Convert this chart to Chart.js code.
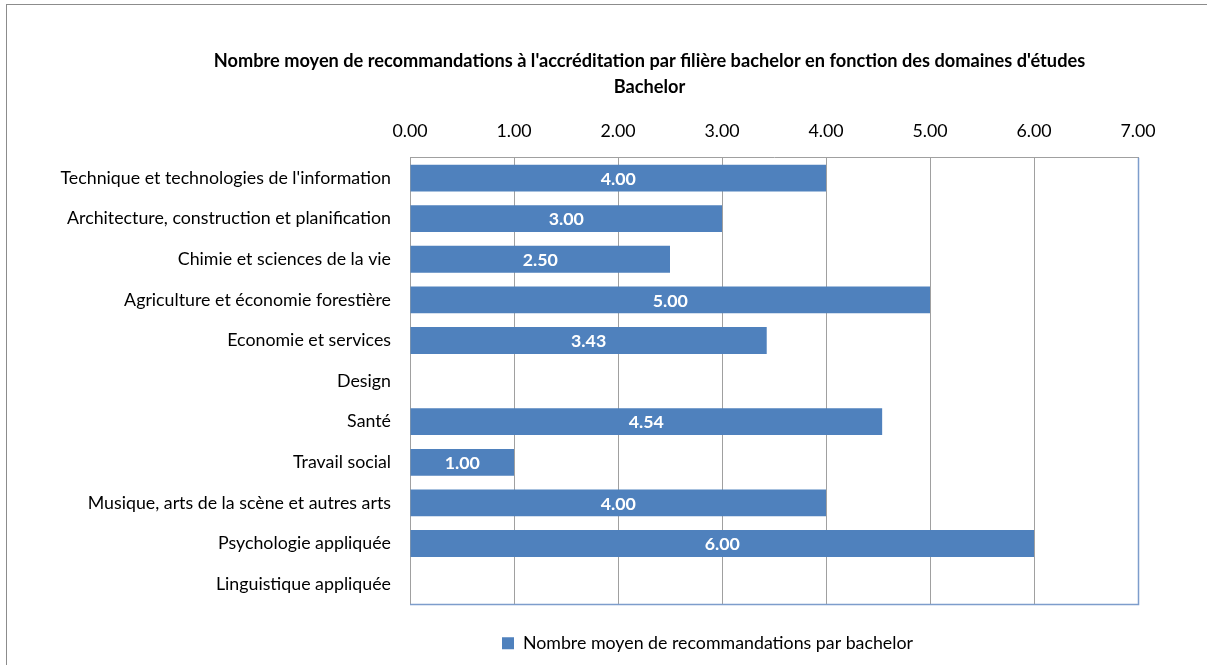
<!DOCTYPE html>
<html>
<head>
<meta charset="utf-8">
<script src="https://cdn.jsdelivr.net/npm/chart.js@4/dist/chart.umd.min.js"></script>
<style>
  html, body { margin: 0; padding: 0; background: #fff; overflow: hidden; }
  #frame { position: absolute; left: 6px; top: 4px; width: 1284px; height: 700px; border: 1px solid #8c8c8c; }
  #chart { display: block; }
</style>
</head>
<body>
<div id="frame"><canvas id="chart" width="1284" height="700"></canvas></div>
<script>
// domaines d'études (catégories)
const categories = [
    "Technique et technologies de l'information",
    'Architecture, construction et planification',
    'Chimie et sciences de la vie',
    'Agriculture et économie forestière',
    'Economie et services',
    'Design',
    'Santé',
    'Travail social',
    'Musique, arts de la scène et autres arts',
    'Psychologie appliquée',
    'Linguistique appliquée'
];
// nombre moyen de recommandations (null = pas de barre)
const moyennes = [4.00, 3.00, 2.50, 5.00, 3.43, null, 4.54, 1.00, 4.00, 6.00, null];
const seriesName = 'Nombre moyen de recommandations par bachelor';
const titleLines = ["Nombre moyen de recommandations à l'accréditation par filière bachelor en fonction des domaines d'études", 'Bachelor'];
const xMin = 0, xMax = 7, xStep = 1;

const FONT = 'Lato';
const FS = 17.8;

// valeurs en blanc au milieu des barres
const barLabels = {
    id: 'barLabels',
    afterDatasetsDraw(chart) {
        const ctx = chart.ctx;
        const meta = chart.getDatasetMeta(0);
        ctx.save();
        ctx.fillStyle = '#ffffff';
        ctx.font = 'bold ' + FS + 'px ' + FONT;
        ctx.textAlign = 'center';
        ctx.textBaseline = 'middle';
        meta.data.forEach((bar, i) => {
            const v = moyennes[i];
            if (v === null) return;
            const p = bar.getProps(['x', 'y', 'base'], true);
            ctx.fillText(v.toFixed(2), (p.x + p.base) / 2, p.y + 1);
        });
        ctx.restore();
    }
};

// bordure droite et basse de la zone de tracé (bleutée comme dans Excel)
const plotBorder = {
    id: 'plotBorder',
    afterDatasetsDraw(chart) {
        const a = chart.chartArea;
        const ctx = chart.ctx;
        ctx.save();
        ctx.strokeStyle = '#7d9dcc';
        ctx.lineWidth = 1.5;
        ctx.beginPath();
        ctx.moveTo(Math.round(a.right) + 0.5, a.top);
        ctx.lineTo(Math.round(a.right) + 0.5, Math.round(a.bottom) + 0.5);
        ctx.lineTo(a.left, Math.round(a.bottom) + 0.5);
        ctx.stroke();
        ctx.restore();
    }
};

// titre et légende décalés comme dans l'original
const blockShift = {
    id: 'blockShift',
    afterLayout(chart) {
        chart.titleBlock.left += 77;
        chart.titleBlock.right += 77;
        chart.legend.left += 135;
        chart.legend.right += 135;
    }
};

new Chart(document.getElementById('chart'), {
    type: 'bar',
    data: {
        labels: categories,
        datasets: [{
            label: seriesName,
            data: moyennes,
            backgroundColor: '#4f81bd',
            borderWidth: 0,
            barPercentage: 0.66,
            categoryPercentage: 1
        }]
    },
    options: {
        indexAxis: 'y',
        responsive: false,
        animation: false,
        layout: { padding: { left: 0, right: 153, top: 0, bottom: 42.8 } },
        scales: {
            x: {
                position: 'top',
                min: xMin,
                max: xMax,
                ticks: {
                    stepSize: xStep,
                    padding: 16.2,
                    color: '#000',
                    font: { family: FONT, size: FS },
                    callback: v => Number(v).toFixed(2)
                },
                grid: { color: '#a0a0a0', lineWidth: 1, drawTicks: false },
                border: { color: '#a0a0a0' }
            },
            y: {
                ticks: {
                    padding: 19,
                    color: '#000',
                    font: { family: FONT, size: FS }
                },
                grid: { display: false, drawTicks: false },
                border: { color: '#a0a0a0' },
                afterFit(scale) { scale.width = 403; }
            }
        },
        plugins: {
            title: {
                display: true,
                text: titleLines,
                color: '#000',
                font: { family: FONT, size: 18.2, weight: 'bold', lineHeight: 26 / 18.2 },
                padding: { top: 43, bottom: 4 }
            },
            legend: {
                position: 'bottom',
                labels: {
                    boxWidth: 12,
                    boxHeight: 12,
                    padding: 30,
                    color: '#000',
                    font: { family: FONT, size: FS }
                }
            },
            tooltip: { enabled: false }
        }
    },
    plugins: [barLabels, plotBorder, blockShift]
});
</script>
</body>
</html>
